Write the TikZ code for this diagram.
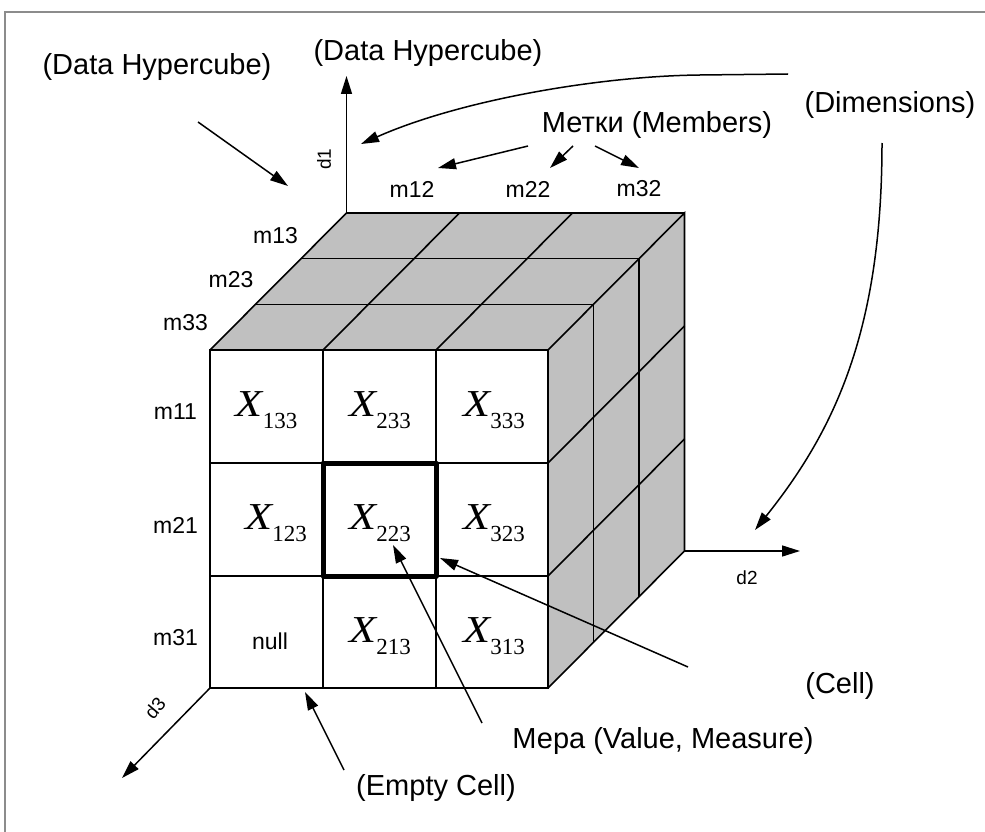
\documentclass[tikz,border=0pt]{standalone}
\usepackage{fontspec}
\setmainfont{Liberation Sans}
\newfontfamily\tms{Liberation Serif}
\usetikzlibrary{arrows.meta}
\definecolor{facegray}{HTML}{C0C0C0}
\definecolor{framegray}{HTML}{8C8C8C}
\newcommand\cellX[1]{{\tms\fontsize{34}{34}\selectfont\scalebox{1.3}[1.12]{\textit{X}}\kern-1pt\raisebox{-12pt}{\fontsize{23}{23}\selectfont #1}}}
\tikzset{
  big/.style={inner sep=0pt, font=\fontsize{29}{29}\selectfont},
  mlab/.style={inner sep=0pt, font=\fontsize{23}{23}\selectfont},
  dlab/.style={inner sep=0pt, font=\fontsize{19}{19}\selectfont},
  xlab/.style={inner sep=0pt, anchor=base},
  arr/.style={-{Triangle[length=18pt,width=11pt]}, line width=1.5pt},
  edge/.style={line width=1.6pt},
  thin/.style={line width=1.1pt},
}
\begin{document}
\begin{tikzpicture}[x=1pt,y=-1pt]
\useasboundingbox (0,0) rectangle (985,832);
% frame
\draw[framegray, line width=1.5pt] (5,832) -- (5,12) -- (985,12);

% cube corners
\coordinate (F00) at (210,350);
\coordinate (F30) at (548,350);
\coordinate (F03) at (210,688);
\coordinate (F33) at (548,688);
\coordinate (B00) at (346.5,213);
\coordinate (B30) at (684.5,213);
\coordinate (B33) at (684.5,551);

% top face
\fill[facegray] (F00) -- (F30) -- (B30) -- (B00) -- cycle;
\draw[edge] (255.5,304.33) -- (593.5,304.33);
\draw[edge] (301,258.67) -- (639,258.67);
\draw[edge] (323,350) -- (459.5,213);
\draw[edge] (436,350) -- (572.5,213);
\draw[edge] (F00) -- (B00) -- (B30);
% right face
\fill[facegray] (F30) -- (B30) -- (B33) -- (F33) -- cycle;
\draw[edge] (593.5,304.33) -- (593.5,642.33);
\draw[edge] (639,258.67) -- (639,596.67);
\draw[edge] (548,463) -- (684.5,326);
\draw[edge] (548,576) -- (684.5,439);
\draw[edge] (F30) -- (B30) -- (B33) -- (F33);
% front face
\fill[white] (F00) rectangle (F33);
\draw[thin] (323,350) -- (323,688);
\draw[thin] (436,350) -- (436,688);
\draw[thin] (210,463) -- (548,463);
\draw[thin] (210,576) -- (548,576);
\draw[edge] (F00) rectangle (F33);
\draw[line width=5pt, line join=round] (323,463) rectangle (436,576);

% cell values
\node[xlab] (x133) at (266.5,416) {\cellX{133}};
\node[xlab] (x233) at (380,416) {\cellX{233}};
\node[xlab] (x333) at (494,416) {\cellX{333}};
\node[xlab] (x123) at (276,529) {\cellX{123}};
\node[xlab] (x223) at (380,529) {\cellX{223}};
\node[xlab] (x323) at (494,529) {\cellX{323}};
\node[mlab] (null) at (270,641) {null};
\node[xlab] (x213) at (380,642) {\cellX{213}};
\node[xlab] (x313) at (494,642) {\cellX{313}};

% member labels
\node[mlab] (m11) at (175.5,412) {m11};
\node[mlab] (m21) at (175.5,525) {m21};
\node[mlab] (m31) at (175.5,638) {m31};
\node[mlab] (m13) at (275.5,235.5) {m13};
\node[mlab] (m23) at (231,279.5) {m23};
\node[mlab] (m33) at (185.5,322.5) {m33};
\node[mlab] (m12) at (412,189) {m12};
\node[mlab] (m22) at (528,189) {m22};
\node[mlab] (m32) at (639,189) {m32};

% axes
\coordinate (d1tip) at (346.5,76);
\coordinate (d2tip) at (800,551);
\coordinate (d3tip) at (122,778);
\draw[arr] (B00) -- (d1tip);
\draw[arr] (B33) -- (d2tip);
\draw[arr] (F03) -- (d3tip);
\node[dlab, rotate=90] (d1) at (324,159) {d1};
\node[dlab] (d2) at (747,578) {d2};
\node[dlab, rotate=50] (d3) at (155,708) {d3};

% big labels
\node[big] (dhl) at (157,67) {(Data Hypercube)};
\node[big] (dht) at (428,53) {(Data Hypercube)};
\node[big] (dim) at (890,105) {(Dimensions)};
\node[big] (mem) at (657,125) {Метки (Members)};
\node[big] (cell) at (840,686) {(Cell)};
\node[big] (meas) at (663,741) {Мера (Value, Measure)};
\node[big] (empty) at (436,788) {(Empty Cell)};

% connectors
\coordinate (a1s) at (198,122);  \coordinate (a1e) at (288,186);
\draw[arr] (a1s) -- (a1e);
\coordinate (c1s) at (788,74);   \coordinate (c1e) at (361,144);
\draw[arr] (c1s) -- (700,75) .. controls (600,76) and (460,100) .. (c1e);
\coordinate (c2s) at (882,143);  \coordinate (c2e) at (755,530);
\draw[arr] (c2s) .. controls (882,330) and (835,430) .. (c2e);
\coordinate (m1s) at (528,146);  \coordinate (m1e) at (438,168);
\coordinate (m2s) at (573,146);  \coordinate (m2e) at (550,168);
\coordinate (m3s) at (595,146);  \coordinate (m3e) at (639,168);
\draw[arr] (m1s) -- (m1e);
\draw[arr] (m2s) -- (m2e);
\draw[arr] (m3s) -- (m3e);
\coordinate (cls) at (688,667);  \coordinate (cle) at (440,558);
\draw[arr] (cls) -- (cle);
\coordinate (mss) at (482,723);  \coordinate (mse) at (393,545);
\draw[arr] (mss) -- (mse);
\coordinate (ecs) at (344,770);  \coordinate (ece) at (305,692);
\draw[arr] (ecs) -- (ece);
\end{tikzpicture}
\end{document}
